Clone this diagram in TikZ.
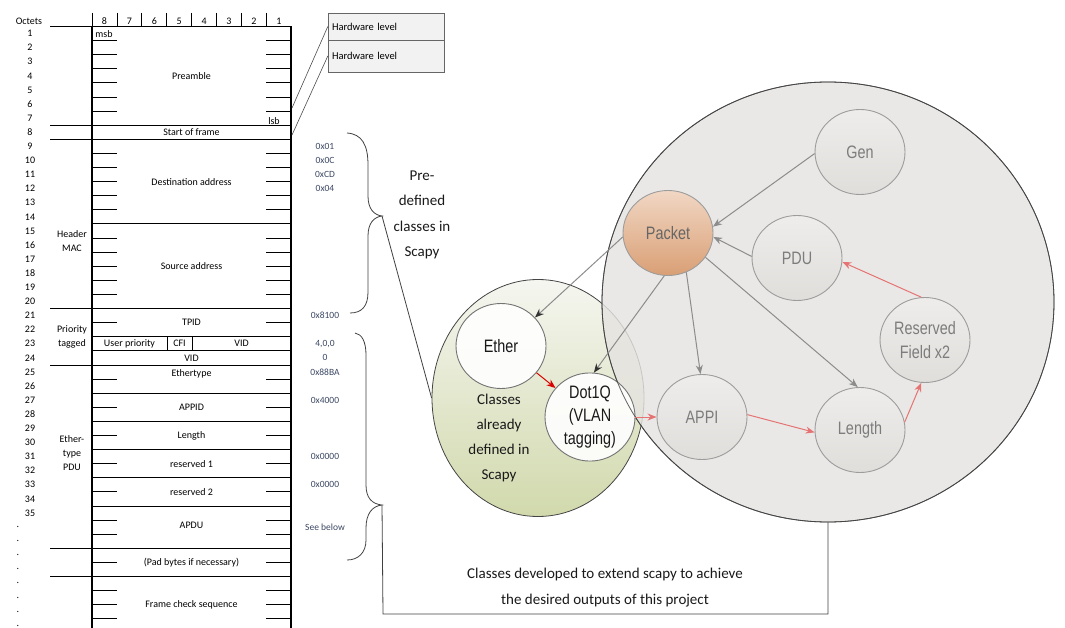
\documentclass[tikz,border=0pt]{standalone}
\usepackage{fontspec}
\setmainfont{Carlito}
\newfontfamily\clsfont[FakeStretch=0.8]{Liberation Sans}
\usetikzlibrary{arrows.meta,shapes.geometric}

\definecolor{hexcol}{HTML}{3B4763}
\definecolor{ringfill}{HTML}{E5E3E0}
\definecolor{ringline}{HTML}{444444}
\definecolor{clsfill}{HTML}{E0DEDB}
\definecolor{clsline}{HTML}{9C9C9C}
\definecolor{clstext}{HTML}{7C7C7C}
\definecolor{linkgrey}{HTML}{8C8C8C}
\definecolor{linkred}{HTML}{E57373}
\definecolor{pktop}{HTML}{F1D7C4}
\definecolor{pkbot}{HTML}{D99F75}
\definecolor{greentop}{HTML}{F5F6F0}
\definecolor{greenbot}{HTML}{D1D9AC}

\tikzset{
	tbl/.style={font=\fontsize{10}{14.1}\selectfont,inner sep=0pt,align=center},
	hex/.style={font=\fontsize{9.5}{11}\selectfont,inner sep=0pt,text=hexcol},
	hwcell/.style={rectangle,draw=black!60,fill=black!5,minimum width=116pt,text width=108pt,inner xsep=4pt,
		align=left,font=\fontsize{10.5}{12}\selectfont},
	note/.style={font=\fontsize{15}{25.3}\selectfont,align=center,inner sep=0pt,text=black!90},
	cls/.style={ellipse,draw=clsline,line width=0.9pt,minimum width=90pt,minimum height=85pt,inner sep=0pt,
		align=center,font=\clsfont\fontsize{18}{23.5}\selectfont},
	devcls/.style={cls,text=clstext,top color=clsfill!55!white,bottom color=clsfill},
	scapycls/.style={cls,draw=black!55,fill=white,fill opacity=0.9,text opacity=1,text=black!90},
	link/.style={draw=linkgrey,line width=1pt,-{Stealth[length=9pt,width=7pt]}},
	darklink/.style={draw=linkgrey,line width=1pt,-{Stealth[length=9pt,width=7pt,color=black!80]}},
	redlink/.style={draw=linkred,line width=1pt,-{Stealth[length=9pt,width=7pt]}},
	brace/.style={draw=black!75,line width=0.8pt},
}

\begin{document}
\begin{tikzpicture}[x=1pt,y=-1pt]
	\useasboundingbox (0,0) rectangle (1065,628);

	% frame layout, one unit of y per octet
	\begin{scope}[shift={(0,26.5)},y=-14.1pt]
		\draw[line width=1.4pt] (92,43) -- (92,0) -- (291,0) -- (291,43);
		\draw[line width=0.8pt] (50,0) -- (92,0);
		\foreach \b [count=\i from 0] in {8,7,...,1} {
			\draw[line width=0.8pt] (92+24.9*\i,-0.96) -- (92+24.9*\i,0);
			\node[tbl] (bit\b) at (104.5+24.9*\i,-0.38) {\b};
		}
		\node[tbl] (octets) at (29,-0.35) {Octets};
		\foreach \r in {14,22,23,26,28,30,32,34}
			\draw[line width=0.8pt] (92,\r) -- (291,\r);
		\foreach \r in {7,8,20,24,37,39}
			\draw[line width=0.8pt] (50,\r) -- (291,\r);
		\foreach \r in {1,2,3,4,5,6,9,10,11,12,13,15,16,17,18,19,21,25,27,29,31,33,35,36,38,40,41,42} {
			\draw[line width=0.8pt] (92,\r) -- (117,\r);
			\draw[line width=0.8pt] (266,\r) -- (291,\r);
		}
		\draw[line width=0.8pt] (167,22) -- (167,23);
		\draw[line width=0.8pt] (192,22) -- (192,23);

		\foreach \k in {1,...,35}
			\node[tbl] (oct\k) at (30,\k-0.5) {\k};
		\foreach \k in {36,...,43}
			\node[tbl] (more\k) at (18,\k-0.5) {.};

		\node[tbl] (msb) at (104,0.55) {msb};
		\node[tbl] (lsb) at (274,6.7) {lsb};
		\node[tbl] (preamble) at (191.5,3.5) {Preamble};
		\node[tbl] (sof) at (191.5,7.5) {Start of frame};
		\node[tbl] (dst) at (191.5,11) {Destination address};
		\node[tbl] (src) at (191.5,17) {Source address};
		\node[tbl] (tpid) at (191.5,21) {TPID};
		\node[tbl] (prio) at (129.5,22.5) {User priority};
		\node[tbl] (cfi) at (179.5,22.5) {CFI};
		\node[tbl] (vidA) at (241.5,22.5) {VID};
		\node[tbl] (vidB) at (191.5,23.5) {VID};
		\node[tbl] (etype) at (191.5,24.65) {Ethertype};
		\node[tbl] (appid) at (191.5,27) {APPID};
		\node[tbl] (len) at (191.5,29) {Length};
		\node[tbl] (res1) at (191.5,31) {reserved 1};
		\node[tbl] (res2) at (191.5,33) {reserved 2};
		\node[tbl] (apdu) at (191.5,35.4) {APDU};
		\node[tbl] (pad) at (191.5,38) {(Pad bytes if necessary)};
		\node[tbl] (fcs) at (191.5,41) {Frame check sequence};

		\node[tbl] (mac) at (72,15.2) {Header\\MAC};
		\node[tbl] (tagged) at (72,22) {Priority\\tagged};
		\node[tbl] (epdu) at (72,30.25) {Ether-\\type\\PDU};

		\node[hex] (h1) at (325,8.5) {0x01};
		\node[hex] (h2) at (325,9.5) {0x0C};
		\node[hex] (h3) at (325,10.5) {0xCD};
		\node[hex] (h4) at (325,11.5) {0x04};
		\node[hex] (h5) at (325,20.5) {0x8100};
		\node[hex] (h6) at (325,22.5) {4,0,0};
		\node[hex] (h7) at (325,23.5) {0};
		\node[hex] (h8) at (325,24.5) {0x88BA};
		\node[hex] (h9) at (325,26.5) {0x4000};
		\node[hex] (h10) at (325,30.5) {0x0000};
		\node[hex] (h11) at (325,32.5) {0x0000};
		\node[hex] (h12) at (325,35.5) {See below};
	\end{scope}

	\node[hwcell,minimum height=27pt] (hw1) at (386,26.5) {Hardware level};
	\node[hwcell,minimum height=32pt] (hw2) at (386,56) {Hardware level};
	\coordinate (preend) at (292,108);
	\coordinate (sofend) at (292,135);
	\draw[line width=0.6pt,black!70] (hw1.west) -- (preend);
	\draw[line width=0.6pt,black!70] (hw2.west) -- (sofend);

	% class groups
	\node[ellipse,draw=ringline,line width=0.8pt,top color=greentop,bottom color=greenbot,
		minimum width=212pt,minimum height=237pt] (base) at (538,398) {};
	\node[ellipse,draw=ringline,line width=0.8pt,fill=ringfill,fill opacity=0.82,
		minimum width=452pt,minimum height=440pt] (ext) at (828,302) {};

	\node[scapycls] (ether) at (501,346) {Ether};
	\node[scapycls,font=\clsfont\fontsize{18}{23}\selectfont] (dot1q) at (590,417) {Dot1Q\\(VLAN\\tagging)};
	\draw[ringline,line width=0.8pt,draw opacity=0.8] (ext.center) ellipse [x radius=226,y radius=220];

	\node[devcls] (gen) at (860,152) {Gen};
	\node[devcls,top color=pktop,bottom color=pkbot,text=black!60] (packet) at (668,233) {Packet};
	\node[devcls] (pdu) at (797,258) {PDU};
	\node[devcls] (reserved) at (925,340) {Reserved\\Field x2};
	\node[devcls] (length) at (860,430) {Length};
	\node[devcls] (appi) at (702,417) {APPI};

	\draw[link] (gen.182) -- (packet.8);
	\draw[link] (pdu.178) -- (packet.355);
	\draw[darklink] (packet.185) -- (ether.40);
	\draw[darklink] (packet.265) -- (dot1q.85);
	\draw[link] (packet.295) -- (appi.92);
	\draw[link] (packet.327) -- (length.93);
	\draw[redlink,draw=red!85!black] (ether.323) -- (dot1q.140);
	\draw[redlink] (dot1q.east) -- (appi.west);
	\draw[redlink] (appi.3) -- (length.183);
	\draw[redlink] (length.10) -- (reserved.265);
	\draw[redlink] (reserved.95) -- (pdu.355);

	\node[note] (predef) at (422,215) {Pre-\\defined\\classes in\\Scapy};
	\node[note] (already) at (499,438) {Classes\\already\\defined in\\Scapy};
	\node[note] (devnote) at (605,587.5) {Classes developed to extend scapy to achieve\\the desired outputs of this project};

	% braces
	\coordinate (tipA) at (382,216);
	\coordinate (tipB) at (382,505);
	\coordinate (elbow) at (383,614);
	\draw[brace] (347,133) .. controls (362,134) and (368,145) .. (368,165) -- (368,196)
		.. controls (368,209) and (374,215) .. (tipA) .. controls (374,217) and (368,223) .. (368,236)
		-- (368,292) .. controls (368,306) and (362,313) .. (350,313);
	\draw[brace] (355,333) .. controls (362,334) and (366,342) .. (366,355) -- (366,485)
		.. controls (366,498) and (372,504) .. (tipB) .. controls (372,506) and (366,514) .. (366,528)
		-- (366,540) .. controls (366,553) and (358,560) .. (347,560);
	\draw[brace] (tipA) -- (base.west);
	\draw[brace] (tipB) -- (elbow) -| (ext.south);
\end{tikzpicture}
\end{document}
